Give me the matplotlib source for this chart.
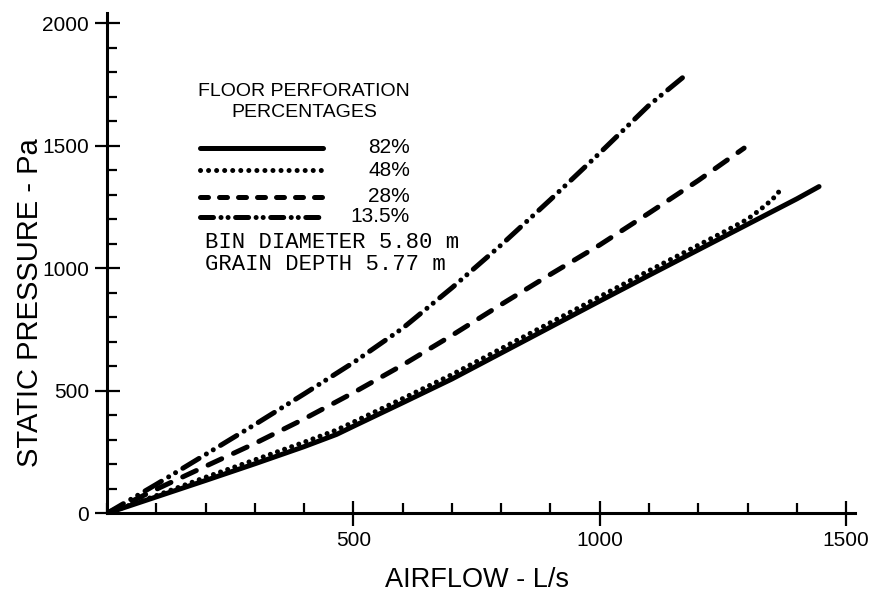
"""Static pressure vs. airflow for several floor perforation percentages."""
import matplotlib
matplotlib.use("Agg")
import matplotlib.pyplot as plt
from matplotlib.lines import Line2D
from matplotlib.ticker import MultipleLocator

# Values (airflow in L/s, pressure in Pa).
airflow_82 = [0, 100, 200, 300, 400, 466, 500, 600, 700, 800, 900, 1000,
              1100, 1200, 1300, 1400, 1445]
pressure_82 = [0, 67, 134, 202, 272, 322, 355, 451, 548, 654, 760, 866,
               971, 1075, 1179, 1283, 1333]

airflow_48 = [0, 100, 200, 300, 400, 466, 500, 600, 700, 800, 900, 1000,
              1100, 1200, 1250, 1300, 1325, 1350, 1370]
pressure_48 = [0, 72, 147, 218, 290, 340, 372, 468, 566, 672, 778, 884,
               990, 1094, 1146, 1200, 1238, 1280, 1327]

airflow_28 = [0, 100, 200, 300, 400, 500, 600, 700, 800, 900, 1000, 1100,
              1200, 1293]
pressure_28 = [0, 98, 192, 285, 385, 492, 605, 726, 852, 975, 1095, 1225,
               1358, 1490]

airflow_135 = [0, 100, 200, 300, 400, 500, 600, 700, 800, 900, 1000, 1100,
               1180]
pressure_135 = [0, 118, 240, 362, 487, 615, 755, 920, 1095, 1280, 1470,
                1665, 1797]

labels = ["82%", "48%", "28%", "13.5%"]
x_ticks = [500, 1000, 1500]
y_ticks = [0, 500, 1000, 1500, 2000]

SANS = "Liberation Sans"
MONO = "Liberation Mono"
LW = 3.6

# line styles, in units of line width (round caps)
dash_styles = [
    None,
    (0, (0.01, 1.5)),
    (0, (3.0, 2.6)),
    (0, (3.8, 1.7, 0.01, 1.6, 0.01, 1.7)),
]
legend_dashes = [
    None,
    (0, (0.01, 1.6)),
    (0, (1.6, 2.2)),
    (0, (2.6, 1.5, 0.01, 1.4, 0.01, 1.5)),
]

W, H = 870, 599
fig = plt.figure(figsize=(W / 100, H / 100), dpi=100)
ax = fig.add_axes([107 / W, 1 - 513.3 / H, (855 - 107) / W, (513.3 - 13.3) / H])

series = [(airflow_82, pressure_82), (airflow_48, pressure_48),
          (airflow_28, pressure_28), (airflow_135, pressure_135)]
for (xs, ys), ls in zip(series, dash_styles):
    kw = dict(color="black", lw=LW, solid_capstyle="round",
              dash_capstyle="round", solid_joinstyle="round")
    if ls is not None:
        kw["linestyle"] = ls
    ax.plot(xs, ys, **kw)

ax.set_xlim(0, 1518)
ax.set_ylim(0, 2040)
for side in ("top", "right"):
    ax.spines[side].set_visible(False)
for side in ("left", "bottom"):
    ax.spines[side].set_linewidth(2.2)

ax.set_xticks(x_ticks)
ax.set_yticks(y_ticks)
ax.xaxis.set_minor_locator(MultipleLocator(100))
ax.yaxis.set_minor_locator(MultipleLocator(100))
ax.tick_params(which="major", direction="inout", length=18, width=1.6,
               pad=4, labelsize=15)
ax.tick_params(which="minor", direction="in", length=7, width=1.6)
for lab in ax.get_xticklabels() + ax.get_yticklabels():
    lab.set_family(SANS)

fig.text(30 / W, 1 - 303 / H, "STATIC PRESSURE - Pa", rotation=90,
         ha="center", va="center", fontsize=21, family=SANS)
fig.text(477 / W, 1 - 580 / H, "AIRFLOW - L/s", ha="center", va="center",
         fontsize=19.5, family=SANS)

# legend block
fig.text(304 / W, 1 - 91.7 / H, "FLOOR PERFORATION", ha="center",
         va="center", fontsize=14, family=SANS)
fig.text(304 / W, 1 - 112.7 / H, "PERCENTAGES", ha="center",
         va="center", fontsize=14, family=SANS)
rows_y = [147.7, 170, 196.7, 216.7]
for lab, ls, py in zip(labels, legend_dashes, rows_y):
    kw = dict(color="black", lw=LW, solid_capstyle="round",
              dash_capstyle="round", transform=fig.transFigure)
    if ls is not None:
        kw["linestyle"] = ls
    fig.add_artist(Line2D([200 / W, 323 / W], [1 - py / H, 1 - py / H], **kw))
    fig.text(410 / W, 1 - py / H, lab, ha="right", va="center",
             fontsize=15, family=SANS)
fig.text(205 / W, 1 - 242.7 / H, "BIN DIAMETER 5.80 m", ha="left",
         va="center", fontsize=16, family=MONO)
fig.text(205 / W, 1 - 264 / H, "GRAIN DEPTH 5.77 m", ha="left",
         va="center", fontsize=16, family=MONO)

fig.savefig("out.png", dpi=100)
